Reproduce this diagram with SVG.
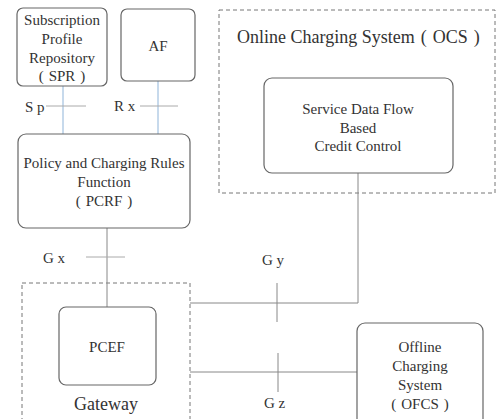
<svg xmlns="http://www.w3.org/2000/svg" width="496" height="419" viewBox="0 0 496 419">
<style>
text{font-family:'Liberation Serif','Times New Roman',Times,serif;fill:#333;text-anchor:middle;font-size:15px}
.box{fill:#fff;stroke:#666;stroke-width:1.2}
.dash{fill:none;stroke:#777;stroke-width:1;stroke-dasharray:4,3}
.blue{stroke:#8fb4d9;stroke-width:1;fill:none}
.ln{stroke:#888;stroke-width:1;fill:none}
.tick{stroke:#aaa;stroke-width:1;fill:none}
.lbl{text-anchor:start}
.big{font-size:18px}
</style>
<rect fill="#fff" width="496" height="419"/>
<g id="ocs">
<rect class="dash" x="219" y="10" width="276" height="183"/>
<text class="big lbl" x="237" y="43">Online Charging System<tspan dx="6">(</tspan><tspan dx="6">OCS</tspan><tspan dx="6">)</tspan></text>
</g>
<g id="gateway">
<rect class="dash" x="22" y="283" width="168" height="150"/>
<text class="big" x="106" y="410">Gateway</text>
</g>
<g id="connectors">
<line class="blue" x1="63" y1="86" x2="63" y2="134"/>
<line class="blue" x1="158" y1="81" x2="158" y2="134"/>
<line class="tick" x1="46" y1="106" x2="86" y2="106"/>
<line class="tick" x1="140" y1="106" x2="178" y2="106"/>
<line class="ln" x1="107" y1="228" x2="107" y2="307"/>
<line class="tick" x1="86" y1="257" x2="125" y2="257"/>
<polyline class="ln" points="358,173 358,303 190,303"/>
<line class="ln" x1="277" y1="283" x2="277" y2="322"/>
<line class="ln" x1="190" y1="372" x2="357" y2="372"/>
<line class="ln" x1="278" y1="353" x2="278" y2="392"/>
<text class="lbl" x="25" y="112">S p</text>
<text class="lbl" x="114" y="111">R x</text>
<text class="lbl" x="43" y="263">G x</text>
<text class="lbl" x="262" y="265">G y</text>
<text class="lbl" x="264" y="408">G z</text>
</g>
<g id="spr">
<rect class="box" x="17" y="8" width="90" height="78" rx="6"/>
<text x="62" y="25">Subscription</text>
<text x="62" y="44">Profile</text>
<text x="62" y="63">Repository</text>
<text x="62" y="81">(<tspan dx="5">SPR</tspan><tspan dx="5">)</tspan></text>
</g>
<g id="af">
<rect class="box" x="121" y="9" width="74" height="72" rx="6"/>
<text x="158" y="51">AF</text>
</g>
<g id="pcrf">
<rect class="box" x="18" y="134" width="172" height="94" rx="8"/>
<text x="104" y="168">Policy and Charging Rules</text>
<text x="104" y="187">Function</text>
<text x="104" y="206">(<tspan dx="5">PCRF</tspan><tspan dx="5">)</tspan></text>
</g>
<g id="sdf">
<rect class="box" x="264" y="78" width="189" height="95" rx="8"/>
<text x="358" y="114">Service Data Flow</text>
<text x="358" y="133">Based</text>
<text x="358" y="151">Credit Control</text>
</g>
<g id="pcef">
<rect class="box" x="59" y="307" width="97" height="78" rx="7"/>
<text x="107" y="352">PCEF</text>
</g>
<g id="ofcs">
<rect class="box" x="357" y="323" width="126" height="110" rx="8"/>
<text x="420" y="352">Offline</text>
<text x="420" y="371">Charging</text>
<text x="420" y="390">System</text>
<text x="420" y="409">(<tspan dx="5">OFCS</tspan><tspan dx="5">)</tspan></text>
</g>
</svg>
